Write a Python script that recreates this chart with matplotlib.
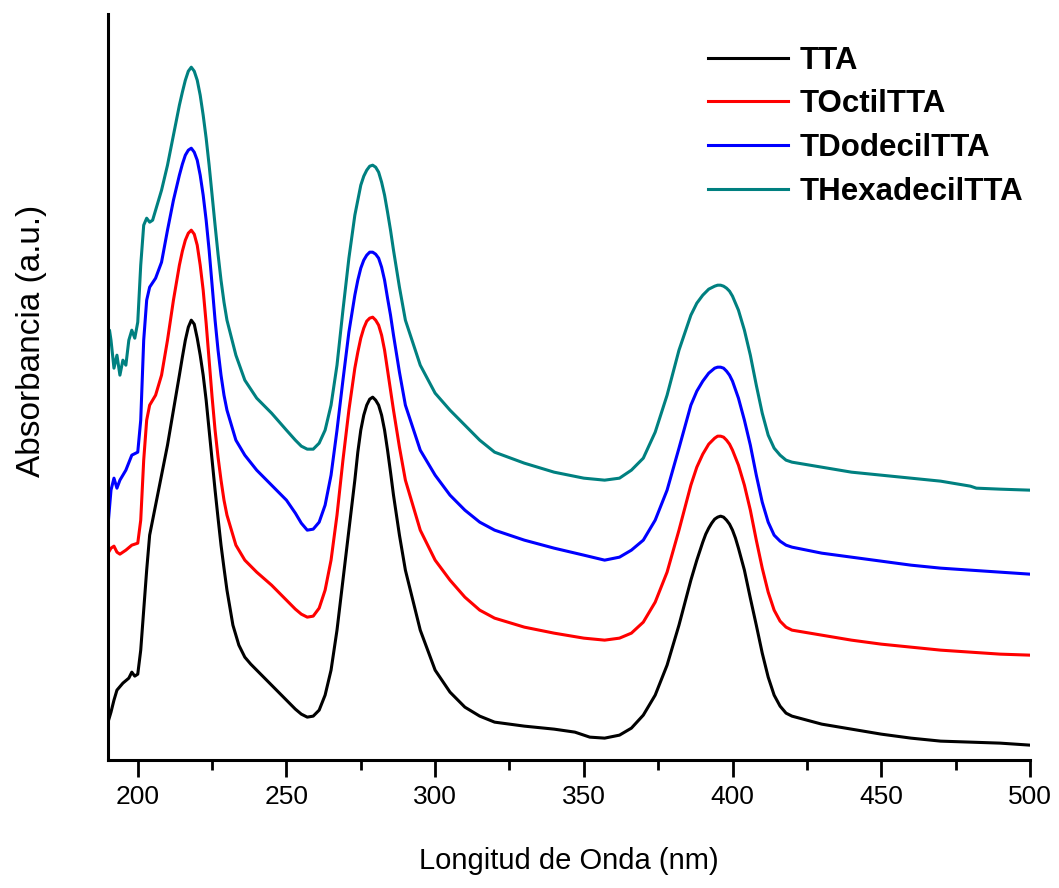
import numpy as np
import matplotlib
matplotlib.use("Agg")
import matplotlib.pyplot as plt
from matplotlib.ticker import MultipleLocator

plt.rcParams['font.family'] = ['Liberation Sans', 'DejaVu Sans']

# Espectros UV-Vis (unidades arbitrarias)
wl_tta = [190, 191, 192, 193, 195, 197, 198, 199, 200, 201,
          202, 203, 204, 206, 208, 210, 212, 214, 215, 216,
          217, 218, 219, 220, 221, 222, 223, 224, 225, 226,
          227, 228, 229, 230, 232, 234, 236, 238, 240, 245,
          250, 253, 255, 257, 259, 261, 263, 265, 267, 269,
          271, 273, 274, 275, 276, 277, 278, 279, 280, 281,
          282, 283, 284, 285, 286, 288, 290, 295, 300, 305,
          310, 315, 320, 330, 340, 347, 352, 357, 362, 366,
          370, 374, 378, 382, 386, 388, 390, 391, 392, 393,
          394, 395, 396, 397, 398, 399, 400, 401, 402, 404,
          406, 408, 410, 412, 414, 416, 418, 420, 425, 430,
          440, 450, 460, 470, 480, 490, 500]
abs_tta = [0.38, 0.48, 0.60, 0.70, 0.77, 0.82, 0.88, 0.84, 0.86, 1.10,
           1.50, 1.90, 2.25, 2.55, 2.85, 3.15, 3.50, 3.85, 4.03, 4.20,
           4.33, 4.40, 4.36, 4.22, 4.05, 3.85, 3.60, 3.30, 3.00, 2.70,
           2.42, 2.15, 1.92, 1.70, 1.35, 1.15, 1.03, 0.96, 0.90, 0.75,
           0.60, 0.51, 0.46, 0.43, 0.44, 0.50, 0.65, 0.90, 1.30, 1.80,
           2.30, 2.80, 3.08, 3.30, 3.45, 3.55, 3.61, 3.63, 3.60, 3.55,
           3.45, 3.30, 3.10, 2.88, 2.65, 2.25, 1.90, 1.30, 0.90, 0.68,
           0.53, 0.44, 0.38, 0.34, 0.31, 0.28, 0.23, 0.22, 0.25, 0.32,
           0.45, 0.65, 0.95, 1.35, 1.80, 2.00, 2.18, 2.26, 2.32, 2.37,
           2.41, 2.43, 2.44, 2.43, 2.40, 2.36, 2.30, 2.22, 2.12, 1.90,
           1.62, 1.35, 1.07, 0.83, 0.65, 0.54, 0.47, 0.44, 0.40, 0.36,
           0.31, 0.26, 0.22, 0.19, 0.18, 0.17, 0.15]

wl_octil = [190, 191, 192, 193, 194, 196, 198, 200, 201, 202,
            203, 204, 206, 208, 210, 212, 214, 215, 216, 217,
            218, 219, 220, 221, 222, 223, 224, 225, 226, 227,
            228, 229, 230, 233, 236, 240, 245, 250, 253, 255,
            257, 259, 261, 263, 265, 267, 269, 271, 273, 274,
            275, 276, 277, 278, 279, 280, 281, 282, 283, 284,
            285, 286, 288, 290, 295, 300, 305, 310, 315, 320,
            330, 340, 350, 357, 362, 366, 370, 374, 378, 382,
            386, 388, 390, 392, 394, 395, 396, 397, 398, 399,
            400, 402, 404, 406, 408, 410, 412, 414, 416, 418,
            420, 430, 440, 450, 460, 470, 480, 490, 500]
abs_octil = [2.07, 2.12, 2.14, 2.08, 2.06, 2.10, 2.15, 2.17, 2.40, 3.00,
             3.40, 3.55, 3.65, 3.85, 4.20, 4.60, 4.95, 5.09, 5.20, 5.27,
             5.30, 5.26, 5.15, 4.95, 4.70, 4.37, 4.00, 3.63, 3.30, 3.03,
             2.80, 2.60, 2.45, 2.15, 2.00, 1.88, 1.75, 1.60, 1.51, 1.46,
             1.43, 1.44, 1.52, 1.70, 2.00, 2.45, 3.00, 3.50, 3.92, 4.08,
             4.22, 4.32, 4.39, 4.42, 4.43, 4.40, 4.35, 4.25, 4.10, 3.90,
             3.70, 3.50, 3.13, 2.80, 2.30, 2.00, 1.80, 1.63, 1.50, 1.42,
             1.33, 1.27, 1.22, 1.20, 1.22, 1.27, 1.38, 1.58, 1.88, 2.30,
             2.75, 2.93, 3.06, 3.16, 3.22, 3.24, 3.24, 3.23, 3.20, 3.16,
             3.10, 2.95, 2.75, 2.50, 2.20, 1.92, 1.68, 1.50, 1.39, 1.33,
             1.30, 1.25, 1.20, 1.16, 1.13, 1.10, 1.08, 1.06, 1.05]

wl_dodecil = [190, 191, 192, 193, 194, 196, 198, 200, 201, 202,
              203, 204, 206, 208, 210, 212, 214, 215, 216, 217,
              218, 219, 220, 221, 222, 223, 224, 225, 226, 227,
              228, 229, 230, 233, 236, 240, 245, 250, 253, 255,
              257, 259, 261, 263, 265, 267, 269, 271, 273, 274,
              275, 276, 277, 278, 279, 280, 281, 282, 283, 284,
              285, 286, 288, 290, 295, 300, 305, 310, 315, 320,
              330, 340, 350, 357, 362, 366, 370, 374, 378, 382,
              386, 388, 390, 392, 394, 395, 396, 397, 398, 399,
              400, 402, 404, 406, 408, 410, 412, 414, 416, 418,
              420, 430, 440, 450, 460, 470, 480, 490, 500]
abs_dodecil = [2.35, 2.70, 2.82, 2.72, 2.80, 2.90, 3.05, 3.08, 3.40, 4.20,
               4.60, 4.73, 4.82, 4.98, 5.30, 5.60, 5.85, 5.96, 6.05, 6.10,
               6.12, 6.08, 6.00, 5.85, 5.65, 5.40, 5.10, 4.75, 4.40, 4.10,
               3.85, 3.65, 3.50, 3.20, 3.05, 2.90, 2.75, 2.60, 2.47, 2.37,
               2.30, 2.31, 2.38, 2.55, 2.85, 3.30, 3.80, 4.28, 4.65, 4.80,
               4.92, 5.00, 5.05, 5.08, 5.08, 5.06, 5.02, 4.93, 4.80, 4.62,
               4.45, 4.25, 3.88, 3.55, 3.10, 2.85, 2.65, 2.50, 2.38, 2.30,
               2.20, 2.12, 2.05, 2.00, 2.03, 2.10, 2.20, 2.40, 2.70, 3.12,
               3.55, 3.69, 3.79, 3.87, 3.92, 3.93, 3.93, 3.92, 3.89, 3.85,
               3.79, 3.62, 3.40, 3.15, 2.85, 2.58, 2.38, 2.25, 2.19, 2.15,
               2.13, 2.07, 2.03, 1.99, 1.95, 1.92, 1.90, 1.88, 1.86]

wl_hexadecil = [190, 190.5, 191, 192, 193, 194, 195, 196, 197, 198,
                199, 200, 201, 202, 203, 204, 205, 206, 208, 210,
                212, 214, 215, 216, 217, 218, 219, 220, 221, 222,
                223, 224, 225, 226, 227, 228, 229, 230, 233, 236,
                240, 245, 250, 253, 255, 257, 259, 261, 263, 265,
                267, 269, 271, 273, 274, 275, 276, 277, 278, 279,
                280, 281, 282, 283, 284, 285, 286, 288, 290, 295,
                300, 305, 310, 315, 320, 330, 340, 350, 357, 362,
                366, 370, 374, 378, 382, 386, 388, 390, 392, 394,
                395, 396, 397, 398, 399, 400, 402, 404, 406, 408,
                410, 412, 414, 416, 418, 420, 430, 440, 450, 460,
                470, 480, 482, 490, 500]
abs_hexadecil = [4.15, 4.30, 4.20, 3.92, 4.05, 3.85, 4.00, 3.95, 4.20, 4.30,
                 4.22, 4.38, 4.95, 5.35, 5.42, 5.38, 5.40, 5.50, 5.70, 5.95,
                 6.25, 6.55, 6.68, 6.80, 6.89, 6.93, 6.89, 6.80, 6.65, 6.45,
                 6.22, 5.95, 5.65, 5.35, 5.06, 4.80, 4.58, 4.40, 4.05, 3.80,
                 3.62, 3.47, 3.30, 3.20, 3.14, 3.11, 3.11, 3.17, 3.30, 3.55,
                 3.95, 4.50, 5.02, 5.45, 5.60, 5.75, 5.84, 5.90, 5.94, 5.95,
                 5.93, 5.88, 5.78, 5.65, 5.48, 5.30, 5.10, 4.73, 4.40, 3.95,
                 3.67, 3.50, 3.35, 3.20, 3.08, 2.97, 2.88, 2.82, 2.80, 2.82,
                 2.90, 3.02, 3.28, 3.65, 4.10, 4.45, 4.57, 4.65, 4.71, 4.74,
                 4.75, 4.75, 4.74, 4.72, 4.69, 4.64, 4.50, 4.30, 4.05, 3.75,
                 3.47, 3.25, 3.12, 3.05, 3.00, 2.98, 2.93, 2.88, 2.85, 2.82,
                 2.79, 2.74, 2.72, 2.71, 2.70]

labels = ["TTA", "TOctilTTA", "TDodecilTTA", "THexadecilTTA"]
colors = ["black", "#FF0000", "#0000FF", "#008080"]

fig = plt.figure(figsize=(10.59, 8.88), dpi=100)
ax = fig.add_axes([0.102, 0.144, 0.8705, 0.84])

series = [(wl_tta, abs_tta), (wl_octil, abs_octil), (wl_dodecil, abs_dodecil), (wl_hexadecil, abs_hexadecil)]
for (x, y), lab, c in zip(series, labels, colors):
    ax.plot(x, y, color=c, lw=2.2, label=lab)

ax.set_xlim(190, 500)
ax.set_ylim(0, 7.46)
ax.xaxis.set_major_locator(MultipleLocator(50))
ax.xaxis.set_minor_locator(MultipleLocator(25))
ax.tick_params(axis='x', which='major', direction='out', length=12, width=2, labelsize=19, pad=6)
ax.tick_params(axis='x', which='minor', direction='out', length=7, width=2)
ax.set_yticks([])

for s in ['top', 'right']:
    ax.spines[s].set_visible(False)
for s in ['left', 'bottom']:
    ax.spines[s].set_linewidth(2.2)

ax.set_xlabel("Longitud de Onda (nm)", fontsize=21, labelpad=27)
ax.set_ylabel("Absorbancia (a.u.)", fontsize=24)
ax.yaxis.set_label_coords(-0.066, 0.562)

ax.legend(loc='upper left', bbox_to_anchor=(692 / 1059, 1 - 30 / 888), bbox_transform=fig.transFigure,
          frameon=False, handlelength=2.56, labelspacing=0.44, borderpad=0, handletextpad=0.38,
          prop={'weight': 'bold', 'size': 22.5})

fig.savefig("out.png", dpi=100)
